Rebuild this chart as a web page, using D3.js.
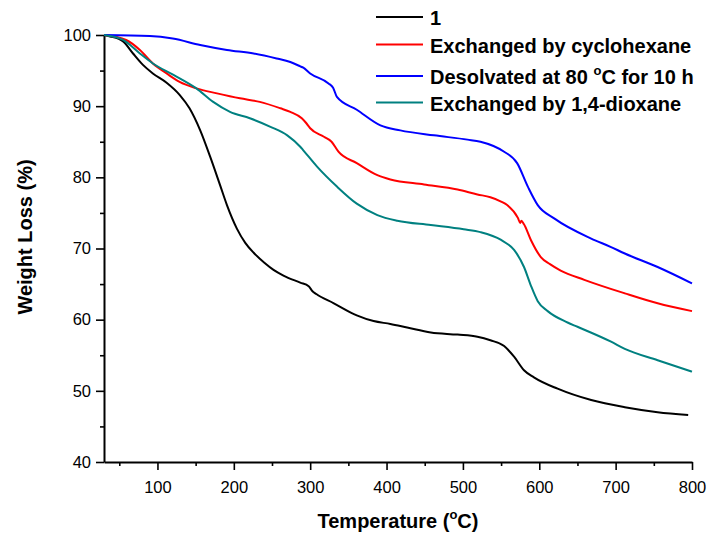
<!DOCTYPE html>
<html>
<head>
<meta charset="utf-8">
<script src="https://cdn.jsdelivr.net/npm/d3@7"></script>
<style>
  body { margin: 0; background: #fff; }
  svg text { font-family: "Liberation Sans", Arial, sans-serif; }
</style>
</head>
<body>
<div id="chart"></div>
<script>
// series names and colours (legend order)
const seriesNames = ["1", "Exchanged by cyclohexane", "Desolvated at 80 °C for 10 h", "Exchanged by 1,4-dioxane"];
const seriesColors = ["#000000", "#ff0000", "#0000ff", "#008080"];

// [temperature (°C), weight (%)]
const sample1 = [[30,100],[38,99.8],[55,99.1],[68,97.4],[81,95.8],[94,94.6],[112,93.3],[129,91.6],[142,89.7],[156,86.6],[169,82.9],[182,78.9],[191,76.1],[204,72.8],[215,70.8],[226,69.4],[240,68.0],[252,67.0],[265,66.2],[287,65.2],[298,64.7],[303,64.0],[308,63.6],[331,62.3],[361,60.6],[383,59.8],[405,59.4],[427,58.9],[458,58.2],[493,57.9],[519,57.6],[536,57.1],[554,56.3],[567,54.8],[580,52.9],[593,51.9],[624,50.3],[668,48.7],[712,47.7],[755,47.0],[795,46.6]];
const cyclohexane = [[30,100],[59,99.3],[77,97.9],[94,96.0],[112,94.6],[129,93.4],[151,92.5],[178,91.8],[208,91.1],[234,90.6],[261,89.7],[274,89.2],[289,88.3],[295,87.6],[300,86.9],[318,85.7],[328,85.0],[337,83.6],[361,82.0],[388,80.3],[405,79.7],[449,79.0],[493,78.3],[519,77.6],[536,77.2],[550,76.6],[558,76.1],[572,74.3],[575,73.6],[576.5,73.9],[580,73.4],[589,71.2],[602,68.8],[614,67.8],[628,66.9],[659,65.6],[712,63.7],[755,62.3],[800,61.2]];
const desolvated = [[30,100],[90,99.86],[120,99.5],[156,98.6],[191,97.9],[226,97.4],[256,96.7],[274,96.2],[287,95.6],[291,95.4],[300,94.6],[324,93.2],[330,92.6],[335,91.3],[361,89.5],[392,87.3],[418,86.6],[462,85.9],[506,85.3],[523,85.0],[540,84.4],[554,83.6],[571,82.0],[585,78.7],[598,76.1],[620,74.2],[668,71.4],[694,70.2],[712,69.3],[755,67.4],[800,65.1]];
const dioxane = [[30,100],[55,99.3],[77,97.4],[94,96.0],[121,94.4],[151,92.5],[173,90.6],[195,89.2],[221,88.3],[248,87.1],[270,85.9],[287,84.3],[291,83.8],[309,81.5],[335,78.7],[361,76.3],[388,74.7],[414,73.9],[458,73.3],[501,72.7],[523,72.3],[550,71.2],[567,69.8],[580,67.4],[589,64.8],[598,62.6],[611,61.2],[637,59.6],[650,59.0],[694,56.9],[712,55.9],[755,54.3],[800,52.7]];

const xMajor = [100, 200, 300, 400, 500, 600, 700, 800];
const xMinor = [50, 150, 250, 350, 450, 550, 650, 750];
const yMajor = [40, 50, 60, 70, 80, 90, 100];
const yMinor = [45, 55, 65, 75, 85, 95];

const width = 710, height = 543;
const margin = { top: 35, right: 18, bottom: 81, left: 104 };

const svg = d3.select("#chart").append("svg")
    .attr("width", width)
    .attr("height", height)
    .style("background-color", "#fff");

const x = d3.scaleLinear().domain([30, 800]).range([margin.left, width - margin.right]);
const y = d3.scaleLinear().domain([40, 100]).range([height - margin.bottom, margin.top]);

// minor ticks first, then the labelled axes on top
svg.append("g")
    .attr("transform", "translate(0," + (height - margin.bottom) + ")")
    .call(d3.axisBottom(x).tickValues(xMinor).tickSize(4).tickSizeOuter(0).tickFormat(""))
    .call(g => g.select(".domain").remove());
svg.append("g")
    .attr("transform", "translate(" + margin.left + ",0)")
    .call(d3.axisLeft(y).tickValues(yMinor).tickSize(4).tickSizeOuter(0).tickFormat(""))
    .call(g => g.select(".domain").remove());

const xAxis = svg.append("g")
    .attr("transform", "translate(0," + (height - margin.bottom) + ")")
    .call(d3.axisBottom(x).tickValues(xMajor).tickSize(8).tickPadding(11).tickSizeOuter(0));
const yAxis = svg.append("g")
    .attr("transform", "translate(" + margin.left + ",0)")
    .call(d3.axisLeft(y).tickValues(yMajor).tickSize(8).tickPadding(5).tickSizeOuter(0));

[xAxis, yAxis].forEach(function (ax) {
    ax.selectAll("text").attr("font-size", 16.5).attr("fill", "#000")
        .style("font-family", "'Liberation Sans', Arial, sans-serif");
    ax.select(".domain").attr("stroke-width", 2);
});
svg.selectAll(".tick line").attr("stroke-width", 1.6);

// curves
const line = d3.line()
    .x(d => x(d[0]))
    .y(d => y(d[1]))
    .curve(d3.curveMonotoneX);

[sample1, cyclohexane, desolvated, dioxane].forEach(function (data, i) {
    svg.append("path")
        .datum(data)
        .attr("fill", "none")
        .attr("stroke", seriesColors[i])
        .attr("stroke-width", 2)
        .attr("stroke-linejoin", "round")
        .attr("d", line);
});

// axis titles
const xTitle = svg.append("text")
    .attr("x", (x.range()[0] + x.range()[1]) / 2)
    .attr("y", 528)
    .attr("text-anchor", "middle")
    .attr("font-size", 20)
    .attr("font-weight", "bold")
    .text("Temperature (");
xTitle.append("tspan").attr("font-size", 13).attr("dy", -9).text("o");
xTitle.append("tspan").attr("dy", 9).text("C)");

svg.append("text")
    .attr("transform", "translate(32,237) rotate(-90)")
    .attr("text-anchor", "middle")
    .attr("font-size", 20)
    .attr("font-weight", "bold")
    .text("Weight Loss (%)");

// legend
const legendY = [17, 44.5, 76, 102.5];
const legend = svg.append("g");
seriesNames.forEach(function (name, i) {
    legend.append("line")
        .attr("x1", 376).attr("x2", 423)
        .attr("y1", legendY[i]).attr("y2", legendY[i])
        .attr("stroke", seriesColors[i])
        .attr("stroke-width", 2);
    const t = legend.append("text")
        .attr("x", 430)
        .attr("y", legendY[i] + 8)
        .attr("font-size", 20)
        .attr("font-weight", "bold");
    if (name.indexOf("°") >= 0) {
        const parts = name.split("°");
        t.append("tspan").text(parts[0]);
        t.append("tspan").attr("font-size", 13).attr("dy", -9).text("o");
        t.append("tspan").attr("dy", 9).text(parts[1]);
    } else {
        t.text(name);
    }
});
</script>
</body>
</html>
